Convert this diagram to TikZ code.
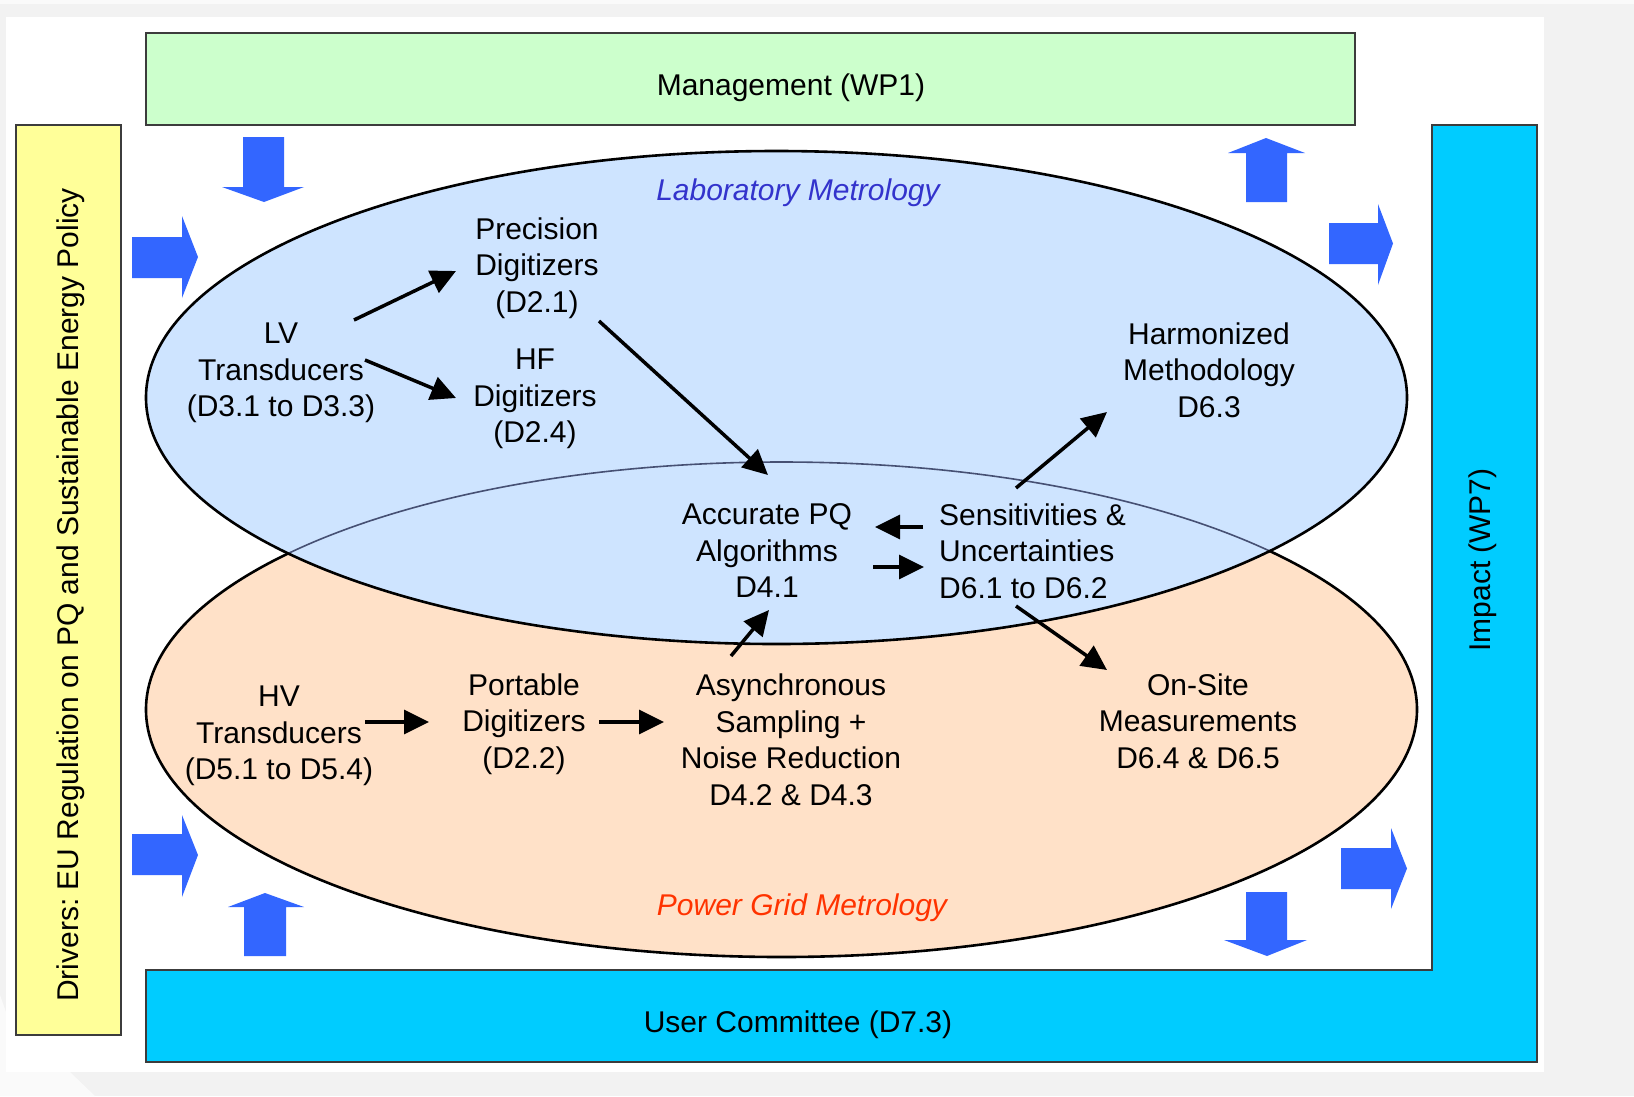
\documentclass[tikz,border=0pt]{standalone}
\usepackage{fontspec}
\setmainfont{Liberation Sans}
\usetikzlibrary{arrows.meta}
\definecolor{mgmtgreen}{RGB}{204,255,204}
\definecolor{drvyellow}{RGB}{255,255,153}
\definecolor{impcyan}{RGB}{0,204,255}
\definecolor{blockblue}{RGB}{51,102,255}
\definecolor{labfill}{RGB}{206,228,255}
\definecolor{gridfill}{RGB}{255,225,200}
\definecolor{labtext}{RGB}{51,51,204}
\definecolor{gridtext}{RGB}{255,51,0}
\definecolor{pagegrey}{RGB}{242,242,242}
\definecolor{pagelight}{RGB}{250,250,250}
\definecolor{panelline}{RGB}{60,60,60}
\definecolor{seamline}{RGB}{70,80,115}
\frenchspacing
\begin{document}
\begin{tikzpicture}[x=1pt,y=-1pt,
  txt/.style={font=\fontsize{30}{36.5}\selectfont, align=center, inner sep=0pt, text=black},
  ital/.style={font=\fontsize{30}{36.5}\selectfont\itshape, inner sep=0pt},
  conn/.style={line width=3.5pt, -{Triangle[length=25pt,width=24pt]}},
  blockarrow/.style={fill=blockblue},
  panel/.style={draw=panelline, line width=1.6pt},
  rim/.style={line width=2.6pt, draw=black}
]
\useasboundingbox (0,0) rectangle (1634,1096);
% page background
\fill[pagegrey] (0,0) rectangle (1634,1096);
\fill[pagelight] (0,0) rectangle (1634,4);
\fill[pagelight] (0,995) -- (6,1012) -- (6,1072) -- (70,1072) -- (95,1096) -- (0,1096) -- cycle;
\fill[white] (6,17) rectangle (1544,1072);

% frame boxes
\draw[panel, fill=mgmtgreen] (146,33) rectangle (1355,125);
\draw[panel, fill=drvyellow] (16,125) rectangle (121,1035);
\draw[panel, fill=impcyan] (146,970) -- (1432,970) -- (1432,125) -- (1537,125) -- (1537,1062) -- (146,1062) -- cycle;

% block arrows
\fill[blockarrow] (243,137) -- (284,137) -- (284,187) -- (304,187) -- (264,202) -- (222,187) -- (243,187) -- cycle;
\fill[blockarrow] (132,237) -- (182,237) -- (182,216) -- (198,257) -- (182,298) -- (182,278) -- (132,278) -- cycle;
\fill[blockarrow] (1246,202) -- (1287,202) -- (1287,153) -- (1305,153) -- (1266,138) -- (1228,153) -- (1246,153) -- cycle;
\fill[blockarrow] (1329,223) -- (1378,223) -- (1378,204) -- (1393,243.5) -- (1378,285) -- (1378,264) -- (1329,264) -- cycle;
\fill[blockarrow] (132,834) -- (182,834) -- (182,815) -- (198,855) -- (182,897) -- (182,875) -- (132,875) -- cycle;
\fill[blockarrow] (244,956) -- (286,956) -- (286,907) -- (304,907) -- (265,893) -- (228,907) -- (244,907) -- cycle;
\fill[blockarrow] (1246,892) -- (1287,892) -- (1287,940) -- (1307,940) -- (1267,956) -- (1224,940) -- (1246,940) -- cycle;
\fill[blockarrow] (1341,848) -- (1391,848) -- (1391,828) -- (1407,868.5) -- (1391,909) -- (1391,889) -- (1341,889) -- cycle;

% ellipses
\draw[rim, fill=gridfill] (781.5,709.5) ellipse [x radius=635.5, y radius=247.5];
\fill[labfill] (776.5,397.5) ellipse [x radius=630.5, y radius=246.5];
\begin{scope}
  \clip (776.5,397.5) ellipse [x radius=630.5, y radius=246.5];
  \draw[line width=1.6pt, draw=seamline] (781.5,709.5) ellipse [x radius=635.5, y radius=247.5];
\end{scope}
\draw[rim] (776.5,397.5) ellipse [x radius=630.5, y radius=246.5];

% frame texts
\node[txt] (mgmt) at (791,88) {Management (WP1)};
\node[txt] (user) at (798,1025) {User Committee (D7.3)};
\node[txt, rotate=90] (drivers) at (71,595) {Drivers: EU Regulation on PQ and Sustainable Energy Policy};
\node[txt, rotate=90] (impact) at (1483,560) {Impact (WP7)};

% region labels
\node[ital, text=labtext] (lab) at (798,193) {Laboratory Metrology};
\node[ital, text=gridtext] (grid) at (802,908) {Power Grid Metrology};

% content nodes
\node[txt] (lv) at (281,373) {LV\\Transducers\\(D3.1 to D3.3)};
\node[txt] (prec) at (537,268) {Precision\\Digitizers\\(D2.1)};
\node[txt] (hf) at (535,399) {HF\\Digitizers\\(D2.4)};
\node[txt] (harm) at (1209,370) {Harmonized\\Methodology\\D6.3};
\node[txt] (acc) at (767,551) {Accurate PQ\\Algorithms\\D4.1};
\node[txt, align=left, anchor=west] (sens) at (939,551) {Sensitivities \&\\Uncertainties\\D6.1 to D6.2};
\node[txt] (hv) at (279,736) {HV\\Transducers\\(D5.1 to D5.4)};
\node[txt] (port) at (524,724) {Portable\\Digitizers\\(D2.2)};
\node[txt] (async) at (791,740) {Asynchronous\\Sampling +\\Noise Reduction\\D4.2 \& D4.3};
\node[txt] (onsite) at (1198,721) {On-Site\\Measurements\\D6.4 \& D6.5};

% connectors
\draw[conn] ([shift={(73,-53)}]lv.center) -- ([shift={(-81,3)}]prec.center);
\draw[conn] ([shift={(84,-13)}]lv.center) -- ([shift={(-79,-1)}]hf.center);
\draw[conn] ([shift={(62,53)}]prec.center) -- ([shift={(1,-76)}]acc.center);
\draw[conn] ([shift={(77,-63)}]sens.west) -- ([shift={(-102,42)}]harm.center);
\draw[conn] ([shift={(-16,-24)}]sens.west) -- ([shift={(108,-24)}]acc.center);
\draw[conn] ([shift={(106,16)}]acc.center) -- ([shift={(-15,16)}]sens.west);
\draw[conn] ([shift={(-60,-84)}]async.center) -- ([shift={(2,59)}]acc.center);
\draw[conn] ([shift={(77,55)}]sens.west) -- ([shift={(-91,-51)}]onsite.center);
\draw[conn] ([shift={(86,-14)}]hv.center) -- ([shift={(-95,-2)}]port.center);
\draw[conn] ([shift={(75,-2)}]port.center) -- ([shift={(-127,-18)}]async.center);
\end{tikzpicture}
\end{document}
